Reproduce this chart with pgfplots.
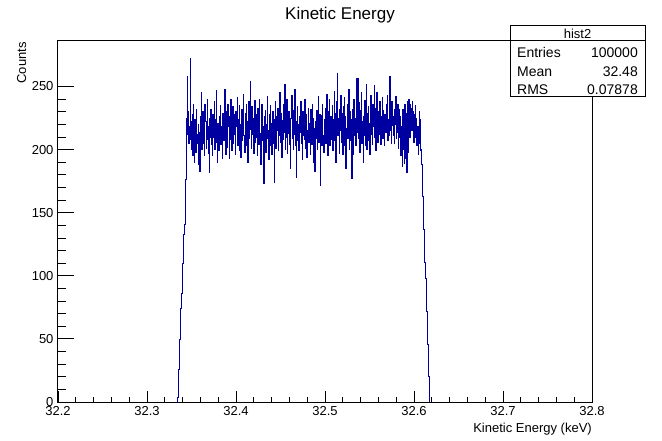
\documentclass[border=0pt]{standalone}
\usepackage{pgfplots}
\usepackage{pgfplotstable}
\pgfplotsset{compat=1.18}
\usepackage{fontspec}
\setmainfont{Liberation Sans}
\definecolor{rootblue}{RGB}{0,0,160}
\pgfplotstableread[row sep=\\]{
y\\
0\\4\\14\\26\\38\\50\\62\\74\\86\\98\\110\\122\\133\\137\\141\\158\\176\\192\\
225\\258\\212\\230\\205\\218\\272\\208\\222\\200\\
228\\195\\236\\210\\190\\224\\215\\198\\232\\212\\
205\\220\\188\\214\\183\\226\\210\\245\\200\\218\\
230\\205\\215\\195\\236\\222\\201\\213\\240\\208\\
218\\197\\182\\225\\210\\232\\204\\219\\195\\228\\
210\\238\\200\\216\\224\\247\\206\\190\\221\\213\\
199\\226\\212\\235\\204\\218\\193\\229\\215\\207\\
222\\248\\211\\196\\230\\214\\202\\236\\218\\193\\
226\\208\\240\\215\\199\\221\\234\\205\\217\\228\\
212\\196\\230\\218\\241\\203\\224\\210\\235\\199\\
220\\194\\214\\232\\207\\225\\244\\211\\198\\229\\
215\\236\\203\\222\\190\\218\\238\\209\\227\\254\\
216\\201\\234\\212\\225\\197\\220\\239\\206\\214\\
228\\210\\195\\233\\219\\204\\240\\213\\188\\222\\
236\\207\\218\\200\\173\\226\\214\\231\\198\\220\\
209\\242\\215\\192\\228\\211\\235\\203\\221\\196\\
218\\230\\205\\224\\174\\212\\238\\201\\226\\215\\
233\\199\\220\\211\\245\\206\\217\\229\\194\\223\\
208\\236\\214\\252\\200\\221\\210\\240\\197\\226\\
213\\230\\204\\219\\185\\225\\243\\209\\218\\200\\
231\\212\\248\\203\\222\\178\\216\\234\\207\\220\\
199\\226\\214\\238\\205\\219\\192\\230\\211\\224\\
208\\240\\217\\201\\228\\194\\215\\233\\206\\221\\
213\\196\\232\\219\\204\\236\\210\\225\\190\\217\\
183\\222\\209\\231\\200\\218\\242\\206\\214\\228\\
172\\215\\227\\203\\236\\211\\198\\224\\217\\233\\
205\\221\\244\\212\\195\\230\\216\\240\\203\\226\\
218\\208\\235\\199\\224\\213\\246\\207\\229\\190\\
220\\238\\260\\211\\225\\197\\232\\215\\243\\206\\
229\\212\\196\\234\\219\\241\\203\\226\\185\\217\\
236\\209\\222\\248\\200\\215\\230\\207\\224\\177\\
218\\232\\196\\240\\211\\225\\203\\256\\214\\228\\
256\\209\\237\\220\\198\\231\\214\\245\\205\\222\\
190\\226\\211\\239\\203\\218\\252\\200\\229\\215\\
234\\207\\221\\196\\243\\212\\228\\204\\236\\218\\
225\\251\\210\\233\\199\\220\\245\\214\\206\\230\\
212\\238\\220\\204\\226\\216\\241\\209\\231\\218\\
203\\228\\214\\236\\219\\243\\207\\224\\211\\233\\
258\\215\\230\\205\\238\\219\\226\\211\\205\\232\\
220\\242\\209\\227\\214\\236\\201\\223\\232\\210\\
226\\195\\218\\187\\232\\200\\214\\189\\236\\205\\
193\\229\\182\\217\\238\\198\\240\\210\\236\\226\\
233\\215\\238\\222\\230\\206\\228\\219\\235\\210\\
225\\203\\218\\196\\212\\230\\205\\224\\199\\
200\\188\\176\\163\\150\\137\\124\\111\\98\\85\\72\\59\\46\\33\\20\\8\\
0\\
}\histdata
\begin{document}
\begin{tikzpicture}
\path[use as bounding box, fill=white] (0,0) rectangle (662pt,440pt);
\begin{axis}[
  at={(58pt,38pt)}, anchor=south west,
  scale only axis, width=534pt, height=361pt,
  xmin=32.2, xmax=32.8, ymin=0, ymax=286,
  axis line style={line width=1pt, black},
  xtick={32.2,32.3,32.4,32.5,32.6,32.7,32.8},
  xticklabels={32.2,32.3,32.4,32.5,32.6,32.7,32.8},
  ytick={0,50,100,150,200,250},
  yticklabels={0,50,100,150,200,250},
  minor x tick num=4, minor y tick num=4,
  xtick pos=bottom, ytick pos=left,
  tick align=inside,
  xtick style={line width=0.8pt, black, /pgfplots/major tick length=11pt, /pgfplots/minor tick length=5.5pt},
  ytick style={line width=0.8pt, black, /pgfplots/major tick length=16pt, /pgfplots/minor tick length=8pt},
  tick label style={font=\fontsize{13}{15}\selectfont},
  xticklabel style={yshift=-1pt},
  yticklabel style={xshift=-1pt},
]
\addplot[const plot, rootblue, line width=0.75pt] table[x expr=32.3338+0.0006*\coordindex, y=y] {\histdata};
\end{axis}
\node[anchor=base] at (340pt,420pt) {\fontsize{17}{20}\selectfont Kinetic Energy};
\node[anchor=base east, inner sep=0pt] at (592pt,8pt) {\fontsize{13}{15}\selectfont Kinetic Energy (keV)};
\node[anchor=base east, rotate=90, inner sep=0pt] at (26pt,398pt) {\fontsize{13}{15}\selectfont Counts};
\draw[line width=1pt, fill=white] (510pt,414pt) rectangle (645pt,343pt);
\draw[line width=1pt] (510pt,399pt) -- (645pt,399pt);
\node[anchor=base, inner sep=0pt] at (577.5pt,401.5pt) {\fontsize{13}{15}\selectfont hist2};
\node[anchor=base west, inner sep=0pt] at (517pt,382pt) {\fontsize{14}{16}\selectfont Entries};
\node[anchor=base east, inner sep=0pt] at (638pt,382pt) {\fontsize{14}{16}\selectfont 100000};
\node[anchor=base west, inner sep=0pt] at (517pt,363.5pt) {\fontsize{14}{16}\selectfont Mean};
\node[anchor=base east, inner sep=0pt] at (638pt,363.5pt) {\fontsize{14}{16}\selectfont 32.48};
\node[anchor=base west, inner sep=0pt] at (517pt,345pt) {\fontsize{14}{16}\selectfont RMS};
\node[anchor=base east, inner sep=0pt] at (638pt,345pt) {\fontsize{14}{16}\selectfont 0.07878};
\end{tikzpicture}
\end{document}
